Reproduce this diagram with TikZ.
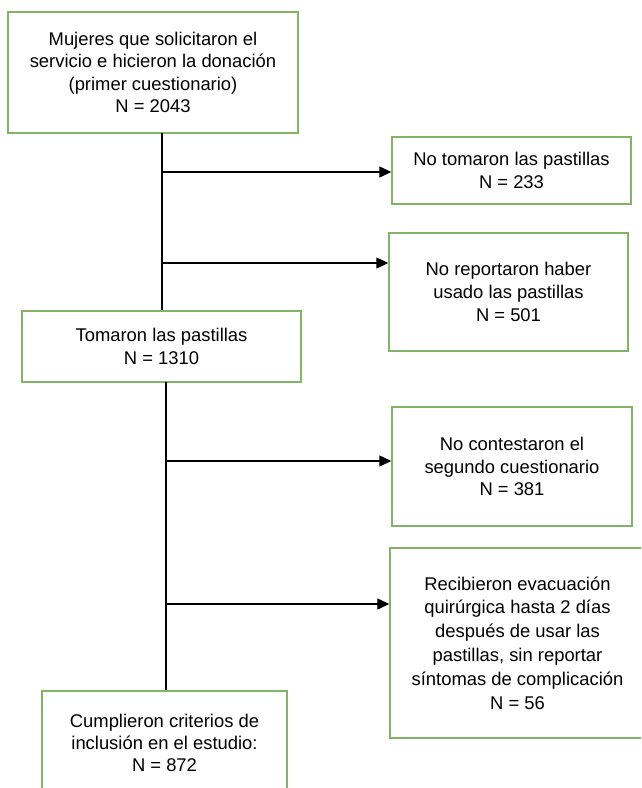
\documentclass[tikz,border=0pt]{standalone}
\usepackage{fontspec}
\setmainfont{Liberation Sans}
\usetikzlibrary{arrows.meta}
\definecolor{boxgreen}{HTML}{82B366}
\begin{document}
\begin{tikzpicture}[x=1pt,y=-1pt,
  box/.style={draw=boxgreen, line width=1.4pt, fill=white, inner sep=0pt, align=center,
    font=\fontsize{18.4}{22.6}\selectfont},
  conn/.style={line width=1.3pt, black},
  arr/.style={conn, -{Triangle[length=12pt,width=11pt]}}]
\useasboundingbox (0,0) rectangle (641,788);
\clip (0,0) rectangle (641,788);
\node[box, minimum width=290pt, minimum height=121pt] (b1) at (153,72.5)
  {Mujeres que solicitaron el\\servicio e hicieron la donación\\(primer cuestionario)\\N = 2043};
\node[box, minimum width=239pt, minimum height=67pt] (b2) at (511.5,170.5)
  {No tomaron las pastillas\\N = 233};
\node[box, minimum width=239pt, minimum height=118pt] (b3) at (508.5,292)
  {No reportaron haber\\usado las pastillas\\N = 501};
\node[box, minimum width=279pt, minimum height=71pt] (b4) at (161.5,346.5)
  {Tomaron las pastillas\\N = 1310};
\node[box, minimum width=240pt, minimum height=119pt] (b5) at (512,466.5)
  {No contestaron el\\segundo cuestionario\\N = 381};
\node[box, minimum width=255pt, minimum height=190pt,
  font=\fontsize{18.4}{23.8}\selectfont] (b6) at (517.5,643)
  {Recibieron evacuación\\quirúrgica hasta 2 días\\después de usar las\\pastillas, sin reportar\\síntomas de complicación\\N = 56};
\node[box, minimum width=245pt, minimum height=104pt,
  font=\fontsize{18.4}{21.8}\selectfont] (b7) at (164.5,743)
  {Cumplieron criterios de\\inclusión en el estudio:\\N = 872};
\coordinate (t1) at (162,133);
\coordinate (j1) at (162,172);
\coordinate (j2) at (162,263);
\coordinate (t2) at (166,382);
\coordinate (j3) at (166,461);
\coordinate (j4) at (166,604);
\draw[conn] (t1) -- (t1 |- b4.north);
\draw[conn] (t2) -- (t2 |- b7.north);
\draw[arr] (j1) -- (j1 -| b2.west);
\draw[arr] (j2) -- (j2 -| b3.west);
\draw[arr] (j3) -- (j3 -| b5.west);
\draw[arr] (j4) -- (j4 -| b6.west);
\end{tikzpicture}
\end{document}
